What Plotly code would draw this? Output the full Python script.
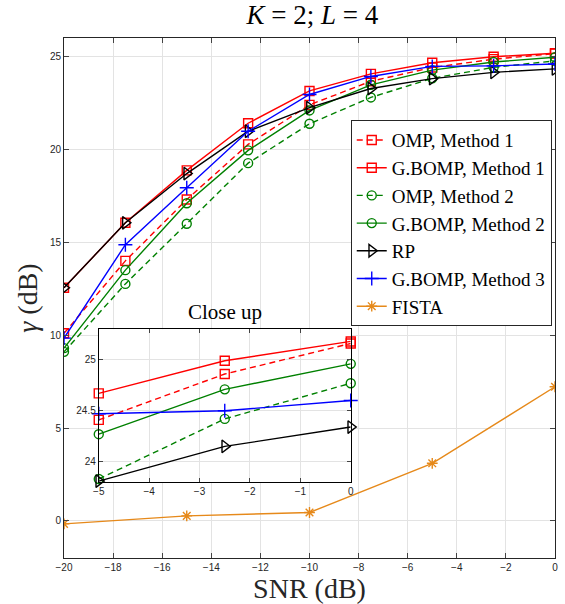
import plotly.graph_objects as go

snr = [-20, -17.5, -15, -12.5, -10, -7.5, -5, -2.5, 0]
omp_m1 = [10.1, 14.0, 17.3, 20.27, 22.4, 23.67, 24.41, 24.86, 25.16]
gbomp_m1 = [12.55, 16.05, 18.87, 21.41, 23.15, 24.07, 24.67, 24.99, 25.18]
omp_m2 = [9.1, 12.76, 16.0, 19.26, 21.38, 22.8, 23.83, 24.42, 24.77]
gbomp_m2 = [9.3, 13.5, 17.1, 19.95, 22.1, 23.48, 24.27, 24.71, 24.96]
rp = [12.55, 16.05, 18.7, 20.98, 22.25, 23.28, 23.81, 24.15, 24.34]
gbomp_m3 = [9.84, 14.87, 17.94, 20.98, 22.96, 23.93, 24.47, 24.50, 24.60]
fista_snr = [-20, -15, -10, -5, 0]
fista = [-0.16, 0.27, 0.45, 3.1, 7.22]

x_ticks = [-20, -18, -16, -14, -12, -10, -8, -6, -4, -2, 0]
y_ticks = [0, 5, 10, 15, 20, 25]
inset_x_ticks = [-5, -4, -3, -2, -1, 0]
inset_y_ticks = [24, 24.5, 25]

series = [
    ("OMP, Method 1", snr, omp_m1, "#ff0000", "dash", "square-open", 9),
    ("G.BOMP, Method 1", snr, gbomp_m1, "#ff0000", "solid", "square-open", 9),
    ("OMP, Method 2", snr, omp_m2, "#008000", "dash", "circle-open", 9),
    ("G.BOMP, Method 2", snr, gbomp_m2, "#008000", "solid", "circle-open", 9),
    ("RP", snr, rp, "#000000", "solid", "triangle-right-open", 11),
    ("G.BOMP, Method 3", snr, gbomp_m3, "#0000ff", "solid", "cross-thin-open", 10),
    ("FISTA", fista_snr, fista, "#E6891A", "solid", "asterisk-open", 9),
]

fig = go.Figure()
for name, xs, ys, color, dash, sym, ms in series:
    fig.add_trace(go.Scatter(
        x=xs, y=ys, name=name, mode="lines+markers",
        line=dict(color=color, width=1.4, dash="6px,4px" if dash == "dash" else "solid"),
        marker=dict(symbol=sym, size=ms, color=color, line=dict(color=color, width=1.4)),
        xaxis="x", yaxis="y",
    ))

# inset: same series, last three points (close up on -5..0)
for name, xs, ys, color, dash, sym, ms in series:
    if name == "FISTA":
        continue
    fig.add_trace(go.Scatter(
        x=xs[6:], y=ys[6:], name=name, mode="lines+markers", showlegend=False,
        line=dict(color=color, width=1.4, dash="6px,4px" if dash == "dash" else "solid"),
        marker=dict(symbol=sym, size=ms, color=color, line=dict(color=color, width=1.4)),
        xaxis="x2", yaxis="y2", cliponaxis=False,
    ))

tickfont = dict(family="Liberation Sans, Arial, sans-serif", size=10, color="#262626")
serif = "Liberation Serif, Times New Roman, serif"

fig.update_layout(
    width=565, height=604,
    margin=dict(l=64, r=7, t=38, b=46),
    paper_bgcolor="white", plot_bgcolor="white",
    title=dict(text="<i>K</i> = 2; <i>L</i> = 4", x=0.553, xanchor="center",
               y=1 - 15 / 604, yanchor="middle",
               font=dict(family=serif, size=27, color="#000000")),
    xaxis=dict(range=[-20, 0], tickvals=x_ticks, ticks="inside", ticklen=5,
               showline=True, linecolor="#262626", linewidth=1, mirror="ticks",
               showgrid=True, gridcolor="#e3e3e3", zeroline=False, tickfont=tickfont,
               title=dict(text="SNR (dB)", font=dict(family=serif, size=28, color="#262626"),
                          standoff=1)),
    yaxis=dict(range=[-2, 26], tickvals=y_ticks, ticks="inside", ticklen=5,
               showline=True, linecolor="#262626", linewidth=1, mirror="ticks",
               showgrid=True, gridcolor="#e3e3e3", zeroline=False, tickfont=tickfont,
               title=dict(text="<i>γ</i> (dB)", font=dict(family=serif, size=28, color="#262626"),
                          standoff=4)),
    xaxis2=dict(domain=[0.0708, 0.584], anchor="y2", range=[-5, 0], tickvals=inset_x_ticks,
                ticks="inside", ticklen=4, showline=True, linecolor="#000000", linewidth=1,
                mirror="ticks", showgrid=True, gridcolor="#e3e3e3", zeroline=False,
                tickfont=tickfont),
    yaxis2=dict(domain=[0.146, 0.44], anchor="x2", range=[23.8, 25.3], tickvals=inset_y_ticks,
                ticks="inside", ticklen=4, showline=True, linecolor="#000000", linewidth=1,
                mirror="ticks", showgrid=True, gridcolor="#e3e3e3", zeroline=False,
                tickfont=tickfont),
    legend=dict(x=0.584, y=0.842, xanchor="left", yanchor="top",
                bgcolor="white", bordercolor="#262626", borderwidth=1,
                font=dict(family=serif, size=19, color="#000000"),
                tracegroupgap=0, itemwidth=30),
    shapes=[dict(type="rect", xref="x2 domain", yref="y2 domain", x0=0, x1=1, y0=0, y1=1,
                 fillcolor="white", line=dict(width=0), layer="below")],
    annotations=[dict(text="Close up", xref="paper", yref="paper",
                      x=(0.0708 + 0.584) / 2, xanchor="center", y=0.44, yanchor="bottom",
                      yshift=3, showarrow=False,
                      font=dict(family=serif, size=21, color="#000000"))],
    showlegend=True,
)

fig.write_html("out.html")
